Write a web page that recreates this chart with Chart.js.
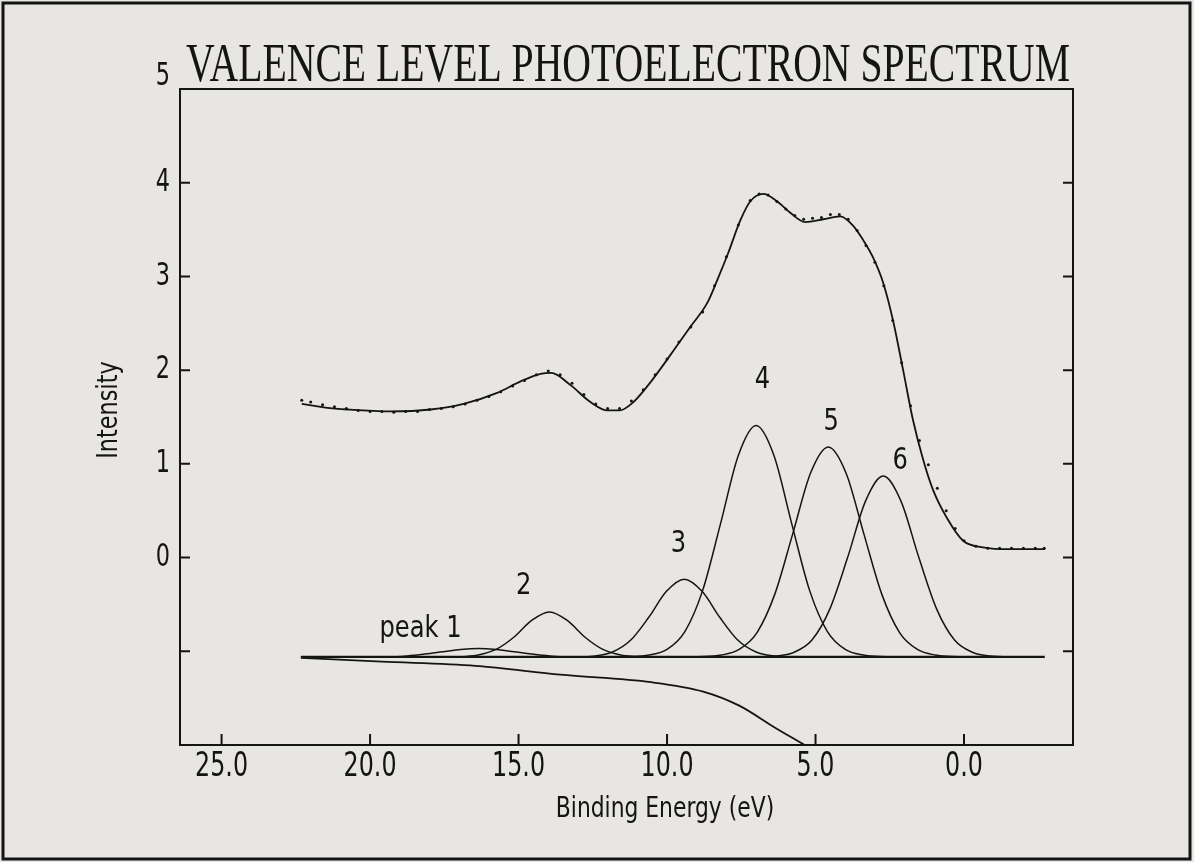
<!DOCTYPE html>
<html>
<head>
<meta charset="utf-8">
<script src="https://cdn.jsdelivr.net/npm/chart.js@4.4.1/dist/chart.umd.min.js"></script>
<style>
  html, body { margin: 0; padding: 0; background: #e8e6e3; }
  #wrap { width: 1194px; height: 862px; position: relative; }
</style>
</head>
<body>
<div id="wrap"><canvas id="spectrum"></canvas></div>
<script>
// binding energy (eV) / intensity
const fitEnergy = [22.3, 21.5, 20.75, 19.3, 17.96, 16.85, 15.7, 14.93, 14.26, 13.9, 13.25, 12.58, 12.0, 11.6, 11.13, 10.56, 9.89, 9.22, 8.64, 8.31, 7.94, 7.53, 7.2, 6.76, 6.29, 5.85, 5.35, 4.74, 4.17, 3.73, 3.4, 3.06, 2.72, 2.39, 2.05, 1.72, 1.38, 1.04, 0.57, 0.03, -0.64, -1.55, -2.72];
const fitIntensity = [1.64, 1.6, 1.58, 1.56, 1.58, 1.64, 1.76, 1.88, 1.96, 1.97, 1.84, 1.66, 1.57, 1.57, 1.66, 1.87, 2.16, 2.46, 2.72, 2.96, 3.25, 3.6, 3.8, 3.88, 3.8, 3.68, 3.58, 3.61, 3.64, 3.54, 3.39, 3.2, 2.93, 2.53, 2.0, 1.47, 1.05, 0.72, 0.42, 0.18, 0.11, 0.09, 0.09];

const dataEnergy = [22.3, 22.0, 21.6, 21.2, 20.8, 20.4, 20.0, 19.6, 19.2, 18.8, 18.4, 18.0, 17.6, 17.2, 16.8, 16.4, 16.0, 15.6, 15.2, 14.8, 14.4, 14.0, 13.6, 13.2, 12.8, 12.4, 12.0, 11.6, 11.2, 10.8, 10.4, 10.0, 9.6, 9.2, 8.8, 8.4, 8.0, 7.6, 7.2, 6.9, 6.6, 6.3, 6.0, 5.7, 5.4, 5.1, 4.8, 4.5, 4.2, 3.9, 3.6, 3.3, 3.0, 2.7, 2.4, 2.1, 1.8, 1.5, 1.2, 0.9, 0.6, 0.3, 0.0, -0.4, -0.8, -1.2, -1.6, -2.0, -2.4, -2.7];
const dataIntensity = [1.68, 1.66, 1.63, 1.61, 1.59, 1.57, 1.56, 1.56, 1.55, 1.56, 1.56, 1.58, 1.59, 1.61, 1.64, 1.68, 1.72, 1.77, 1.83, 1.89, 1.95, 1.99, 1.95, 1.86, 1.74, 1.64, 1.59, 1.59, 1.67, 1.79, 1.95, 2.12, 2.3, 2.46, 2.62, 2.9, 3.21, 3.55, 3.81, 3.88, 3.87, 3.8, 3.72, 3.65, 3.61, 3.62, 3.63, 3.66, 3.66, 3.61, 3.49, 3.33, 3.15, 2.9, 2.53, 2.08, 1.62, 1.25, 0.99, 0.74, 0.5, 0.31, 0.18, 0.12, 0.1, 0.1, 0.1, 0.1, 0.1, 0.1];

const baseEnergy = [22.33, -2.72];
const baseIntensity = [-1.06, -1.06];

const backgroundEnergy = [22.33, 19.6, 16.45, 13.59, 10.53, 8.78, 7.57, 6.39, 5.21, 4.9];
const backgroundIntensity = [-1.07, -1.11, -1.155, -1.25, -1.33, -1.43, -1.58, -1.81, -2.03, -2.09];

const peak1Energy = [19.95, 19.35, 18.75, 18.15, 17.55, 16.95, 16.35, 15.75, 15.15, 14.55, 13.95, 13.35, 12.75];
const peak1Intensity = [-1.06, -1.06, -1.05, -1.03, -1.005, -0.98, -0.97, -0.98, -1.005, -1.03, -1.05, -1.06, -1.06];
const peak2Energy = [16.96, 16.36, 15.76, 15.16, 14.56, 13.96, 13.36, 12.76, 12.16, 11.56, 10.96];
const peak2Intensity = [-1.06, -1.04, -0.98, -0.85, -0.67, -0.58, -0.67, -0.85, -0.98, -1.04, -1.06];
const peak3Energy = [13.02, 12.42, 11.82, 11.22, 10.62, 10.02, 9.42, 8.82, 8.22, 7.62, 7.02, 6.42, 5.82];
const peak3Intensity = [-1.06, -1.05, -1.005, -0.88, -0.64, -0.36, -0.23, -0.36, -0.64, -0.88, -1.005, -1.05, -1.06];
const peak4Energy = [11.5, 10.6, 10.0, 9.4, 8.8, 8.2, 7.6, 7.0, 6.4, 5.8, 5.2, 4.6, 4.0, 3.4, 2.5];
const peak4Intensity = [-1.06, -1.04, -0.98, -0.79, -0.35, 0.36, 1.09, 1.41, 1.09, 0.36, -0.35, -0.79, -0.98, -1.04, -1.06];
const peak5Energy = [9.07, 8.17, 7.57, 6.97, 6.37, 5.77, 5.17, 4.57, 3.97, 3.37, 2.77, 2.17, 1.57, 0.97, 0.07];
const peak5Intensity = [-1.06, -1.04, -0.98, -0.8, -0.39, 0.25, 0.9, 1.18, 0.9, 0.25, -0.39, -0.8, -0.98, -1.04, -1.06];
const peak6Energy = [7.22, 6.32, 5.72, 5.12, 4.52, 3.92, 3.32, 2.72, 2.12, 1.52, 0.92, 0.32, -0.28, -0.88, -1.78];
const peak6Intensity = [-1.06, -1.05, -1.01, -0.88, -0.55, 0.0, 0.6, 0.87, 0.6, 0.0, -0.55, -0.88, -1.01, -1.05, -1.06];

const peakLabels = ['peak 1', '2', '3', '4', '5', '6'];
const peakLabelEnergy = [18.3, 14.83, 9.62, 6.79, 4.47, 2.15];
const peakLabelIntensity = [-0.76, -0.3, 0.15, 1.89, 1.45, 1.03];

const xTickValues = [25, 20, 15, 10, 5, 0];
const yTickValues = [5, 4, 3, 2, 1, 0, -1];
const yTickLabels = ['5', '4', '3', '2', '1', '0', ''];

const ink = '#141414';
const sansFont = '"DejaVu Sans", sans-serif';
const serifFont = '"Liberation Serif", "DejaVu Serif", serif';

function toPoints(xs, ys) {
    return xs.map((x, i) => ({ x: x, y: ys[i] }));
}

function curve(xs, ys, width) {
    return {
        data: toPoints(xs, ys),
        borderColor: ink,
        borderWidth: width,
        pointRadius: 0,
        fill: false,
        cubicInterpolationMode: 'monotone'
    };
}

// squeezed text, like the narrow plotter lettering
function squeezeText(ctx, text, x, y, size, sx, align, family) {
    ctx.save();
    ctx.font = size + 'px ' + family;
    ctx.textBaseline = 'middle';
    ctx.translate(x, y);
    ctx.scale(sx, 1);
    const w = ctx.measureText(text).width;
    let dx = 0;
    if (align === 'center') dx = -w / 2;
    if (align === 'right') dx = -w;
    ctx.fillText(text, dx, 0);
    ctx.restore();
}

const decorPlugin = {
    id: 'decor',
    beforeDraw(chart) {
        const ctx = chart.ctx;
        ctx.save();
        ctx.fillStyle = '#e8e6e3';
        ctx.fillRect(0, 0, chart.width, chart.height);
        ctx.restore();
    },
    afterDraw(chart) {
        const ctx = chart.ctx;
        const area = chart.chartArea;
        const xs = chart.scales.x;
        const ys = chart.scales.y;
        ctx.save();
        ctx.strokeStyle = ink;
        ctx.fillStyle = ink;

        // page frame
        ctx.lineWidth = 3;
        ctx.strokeRect(3, 3, chart.width - 7, chart.height - 6);

        // plot box
        ctx.lineWidth = 2;
        ctx.strokeRect(area.left, area.top, area.right - area.left, area.bottom - area.top);

        // inward ticks
        ctx.lineWidth = 2;
        ctx.beginPath();
        xTickValues.forEach(v => {
            const px = xs.getPixelForValue(v);
            ctx.moveTo(px, area.bottom);
            ctx.lineTo(px, area.bottom - 11);
        });
        yTickValues.forEach(v => {
            const py = ys.getPixelForValue(v);
            if (py <= area.top + 1) return;
            ctx.moveTo(area.left, py);
            ctx.lineTo(area.left + 10, py);
            ctx.moveTo(area.right, py);
            ctx.lineTo(area.right - 10, py);
        });
        ctx.stroke();

        // tick labels
        xTickValues.forEach(v => {
            squeezeText(ctx, v.toFixed(1), xs.getPixelForValue(v), 767, 34, 0.7, 'center', sansFont);
        });
        yTickValues.forEach((v, i) => {
            let py = ys.getPixelForValue(v);
            if (v === ys.max) py -= 12;
            squeezeText(ctx, yTickLabels[i], area.left - 10, py, 32, 0.7, 'right', sansFont);
        });

        // axis titles
        squeezeText(ctx, 'Binding Energy (eV)', 665, 810, 28, 0.78, 'center', sansFont);
        ctx.save();
        ctx.translate(110, 410);
        ctx.rotate(-Math.PI / 2);
        squeezeText(ctx, 'Intensity', 0, 0, 28, 0.8, 'center', sansFont);
        ctx.restore();

        // peak labels
        peakLabels.forEach((t, i) => {
            squeezeText(ctx, t, xs.getPixelForValue(peakLabelEnergy[i]), ys.getPixelForValue(peakLabelIntensity[i]), 31, 0.78, 'center', sansFont);
        });

        // title
        ctx.font = '54px ' + serifFont;
        ctx.textBaseline = 'alphabetic';
        const title = 'VALENCE LEVEL PHOTOELECTRON SPECTRUM';
        const tw = ctx.measureText(title).width;
        ctx.translate(186, 81);
        ctx.scale(884 / tw, 1);
        ctx.fillText(title, 0, 0);
        ctx.restore();
    }
};

const ctx = document.getElementById('spectrum').getContext('2d');
const chart = new Chart(ctx, {
    type: 'line',
    data: {
        datasets: [
            curve(baseEnergy, baseIntensity, 2.2),
            curve(backgroundEnergy, backgroundIntensity, 1.8),
            curve(peak1Energy, peak1Intensity, 1.5),
            curve(peak2Energy, peak2Intensity, 1.5),
            curve(peak3Energy, peak3Intensity, 1.5),
            curve(peak4Energy, peak4Intensity, 1.5),
            curve(peak5Energy, peak5Intensity, 1.5),
            curve(peak6Energy, peak6Intensity, 1.5),
            curve(fitEnergy, fitIntensity, 1.8),
            {
                data: toPoints(dataEnergy, dataIntensity),
                showLine: false,
                pointRadius: 1.5,
                pointBackgroundColor: ink,
                pointBorderWidth: 0
            }
        ]
    },
    options: {
        responsive: true,
        maintainAspectRatio: false,
        animation: false,
        parsing: false,
        layout: { padding: { left: 0, right: 121, top: 89, bottom: 0 } },
        plugins: {
            legend: { display: false },
            tooltip: { enabled: false }
        },
        scales: {
            x: {
                type: 'linear',
                reverse: true,
                min: -3.67,
                max: 26.4,
                grid: { display: false },
                border: { display: false },
                ticks: { display: false },
                afterBuildTicks: s => { s.ticks = xTickValues.map(v => ({ value: v })); },
                afterFit: s => { s.height = 117; }
            },
            y: {
                type: 'linear',
                min: -2,
                max: 5,
                grid: { display: false },
                border: { display: false },
                ticks: { display: false },
                afterBuildTicks: s => { s.ticks = yTickValues.map(v => ({ value: v })); },
                afterFit: s => { s.width = 180; }
            }
        }
    },
    plugins: [decorPlugin]
});
</script>
</body>
</html>
